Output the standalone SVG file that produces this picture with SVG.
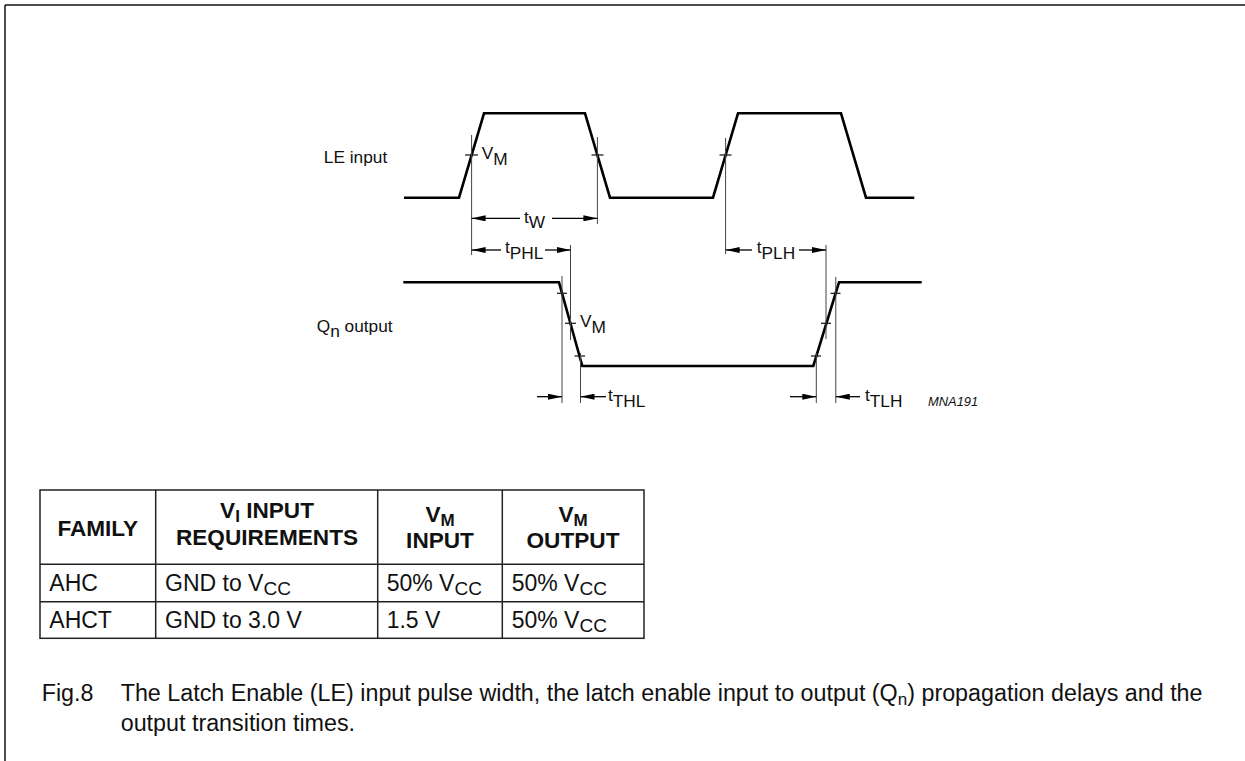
<svg xmlns="http://www.w3.org/2000/svg" width="1245" height="761" viewBox="0 0 1245 761">
<style>
text{font-family:"Liberation Sans",Arial,sans-serif;fill:#111}
.lbl{font-size:17.3px}
.wave{fill:none;stroke:#000;stroke-width:2.6;stroke-linejoin:miter}
.guide{stroke:#444;stroke-width:1}
.tick{stroke:#111;stroke-width:1.2}
.arr{stroke:#000;stroke-width:1.3;marker-end:url(#ah)}
.grid{fill:none;stroke:#222;stroke-width:1.5}
.th{font-size:22.6px;font-weight:bold;text-anchor:middle}
.td{font-size:23px}
.cap{font-size:23.3px}
.frame{stroke:#111;stroke-width:1.5}
</style>
<defs>
<marker id="ah" viewBox="0 0 14 6" refX="14" refY="3" markerWidth="14" markerHeight="6" markerUnits="userSpaceOnUse" orient="auto">
<path d="M0,0 L14,3 L0,6 z" fill="#000"/>
</marker>
</defs>
<rect width="1245" height="761" fill="#fff"/>
<g id="frame">
<line class="frame" x1="5" y1="5" x2="1245" y2="5"/>
<line class="frame" x1="5" y1="5" x2="5" y2="761"/>
</g>
<g id="le-input">
<text class="lbl" x="355.5" y="163" text-anchor="middle">LE input</text>
<path class="wave" d="M404,197.7 H459 L484,113.3 H585 L610,197.7 H713 L738,113.3 H841 L866,197.7 H914.3"/>
<line class="tick" x1="465" y1="155" x2="478" y2="155"/>
<line class="tick" x1="591.5" y1="155" x2="603.5" y2="155"/>
<line class="tick" x1="719.5" y1="155" x2="731.5" y2="155"/>
<text class="lbl" x="481.7" y="159">V<tspan dy="6">M</tspan></text>
</g>
<g id="qn-output">
<text class="lbl" x="316.7" y="332">Q<tspan dy="5">n</tspan><tspan dy="-5"> output</tspan></text>
<path class="wave" d="M403.3,282.3 H559 L582.3,366 H813.3 L839,282.3 H921.7"/>
<line class="tick" x1="557" y1="293.3" x2="567" y2="293.3"/>
<line class="tick" x1="565" y1="323.3" x2="576" y2="323.3"/>
<line class="tick" x1="574.5" y1="356" x2="585" y2="356"/>
<line class="tick" x1="811" y1="356" x2="821" y2="356"/>
<line class="tick" x1="821" y1="323.3" x2="831" y2="323.3"/>
<line class="tick" x1="830.5" y1="293.3" x2="840.5" y2="293.3"/>
<text class="lbl" x="580" y="327">V<tspan dy="6">M</tspan></text>
</g>
<g id="connectors">
<line class="guide" x1="471.6" y1="135" x2="471.6" y2="255"/>
<line class="guide" x1="597.4" y1="137" x2="597.4" y2="224"/>
<line class="guide" x1="725.6" y1="138" x2="725.6" y2="254"/>
<line class="guide" x1="570.5" y1="245" x2="570.5" y2="340"/>
<line class="guide" x1="826" y1="245" x2="826" y2="339"/>
<line class="guide" x1="562" y1="276" x2="562" y2="403"/>
<line class="guide" x1="580.5" y1="353" x2="580.5" y2="403"/>
<line class="guide" x1="816.3" y1="353" x2="816.3" y2="403"/>
<line class="guide" x1="835.8" y1="277" x2="835.8" y2="403"/>
<line class="arr" x1="520" y1="218.3" x2="471.6" y2="218.3"/>
<line class="arr" x1="552" y1="218.3" x2="597.4" y2="218.3"/>
<line class="arr" x1="501" y1="250" x2="471.6" y2="250"/>
<line class="arr" x1="545" y1="250" x2="570.5" y2="250"/>
<line class="arr" x1="752" y1="250" x2="725.6" y2="250"/>
<line class="arr" x1="799" y1="250" x2="826" y2="250"/>
<line class="arr" x1="537" y1="396.7" x2="562" y2="396.7"/>
<line class="arr" x1="606" y1="396.7" x2="580.5" y2="396.7"/>
<line class="arr" x1="790" y1="396.7" x2="816.3" y2="396.7"/>
<line class="arr" x1="860" y1="396.7" x2="835.8" y2="396.7"/>
</g>
<g id="timing-labels">
<text class="lbl" x="524" y="222.5">t<tspan dy="5.5">W</tspan></text>
<text class="lbl" x="505" y="253">t<tspan dy="6">PHL</tspan></text>
<text class="lbl" x="756.7" y="253">t<tspan dy="6">PLH</tspan></text>
<text class="lbl" x="608" y="400.5">t<tspan dy="6">THL</tspan></text>
<text class="lbl" x="865" y="400.5">t<tspan dy="6">TLH</tspan></text>
<text x="928" y="405.5" font-size="12.9" font-style="italic">MNA191</text>
</g>
<g id="table">
<rect class="grid" x="40" y="490" width="604" height="148.3"/>
<line class="grid" x1="40" y1="564.3" x2="644" y2="564.3"/>
<line class="grid" x1="40" y1="601.7" x2="644" y2="601.7"/>
<line class="grid" x1="155.7" y1="490" x2="155.7" y2="638.3"/>
<line class="grid" x1="377.7" y1="490" x2="377.7" y2="638.3"/>
<line class="grid" x1="502.3" y1="490" x2="502.3" y2="638.3"/>
<text class="th" x="97.8" y="536">FAMILY</text>
<text class="th" x="267" y="518">V<tspan font-size="17" dy="3.5">I</tspan><tspan dy="-3.5"> INPUT</tspan></text>
<text class="th" x="267" y="544.5">REQUIREMENTS</text>
<text class="th" x="440" y="522">V<tspan font-size="17" dy="3.5">M</tspan></text>
<text class="th" x="440" y="547.5">INPUT</text>
<text class="th" x="573" y="522">V<tspan font-size="17" dy="3.5">M</tspan></text>
<text class="th" x="573" y="547.5">OUTPUT</text>
<text class="td" x="49.3" y="591">AHC</text>
<text class="td" x="165" y="591">GND to V<tspan font-size="19" dy="4">CC</tspan></text>
<text class="td" x="386.7" y="591">50% V<tspan font-size="19" dy="4">CC</tspan></text>
<text class="td" x="511.7" y="591">50% V<tspan font-size="19" dy="4">CC</tspan></text>
<text class="td" x="49.3" y="628">AHCT</text>
<text class="td" x="165" y="628">GND to 3.0 V</text>
<text class="td" x="386.7" y="628">1.5 V</text>
<text class="td" x="511.7" y="628">50% V<tspan font-size="19" dy="4">CC</tspan></text>
</g>
<g id="caption">
<text class="cap" x="41.7" y="701">Fig.8</text>
<text class="cap" x="120.7" y="701">The Latch Enable (LE) input pulse width, the latch enable input to output (Q<tspan font-size="17" dy="4">n</tspan><tspan dy="-4">) propagation delays and the</tspan></text>
<text class="cap" x="120.7" y="730.5">output transition times.</text>
</g>
</svg>
